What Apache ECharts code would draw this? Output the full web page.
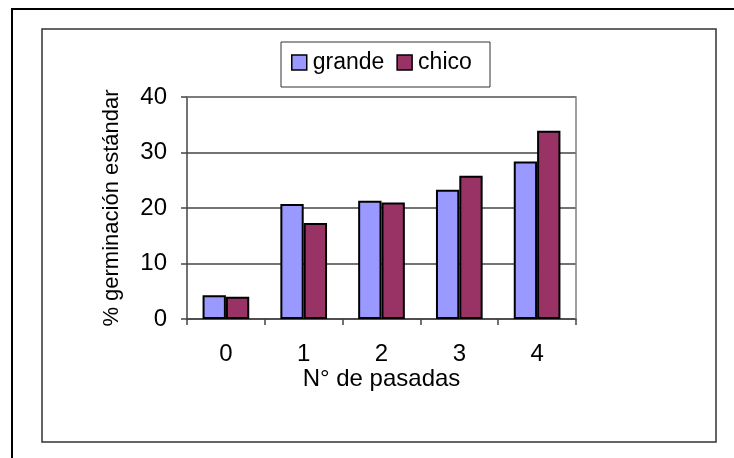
<!DOCTYPE html>
<html>
<head>
<meta charset="utf-8">
<script src="https://cdn.jsdelivr.net/npm/echarts@6/dist/echarts.min.js"></script>
<style>
  html, body { margin: 0; padding: 0; background: #fff; }
  #chart { width: 734px; height: 458px; }
</style>
</head>
<body>
<div id="chart"></div>
<script>
// Number of passes and standard germination (%) per seed size
const categories = ['0', '1', '2', '3', '4'];
const grande = [4.3, 20.7, 21.3, 23.3, 28.4];
const chico = [4.0, 17.3, 21.0, 25.8, 33.9];
const yTicks = [0, 10, 20, 30, 40];

const FONT = 'Liberation Sans, Arial, sans-serif';

const chart = echarts.init(document.getElementById('chart'), null, { renderer: 'canvas' });

chart.setOption({
  animation: false,
  backgroundColor: '#fff',
  textStyle: { fontFamily: FONT, color: '#000' },
  graphic: [
    // outer frame
    { type: 'rect', shape: { x: 12, y: 9, width: 800, height: 500 },
      style: { fill: 'none', stroke: '#000', lineWidth: 2 }, z: 0 },
    // chart area frame
    { type: 'rect', shape: { x: 42, y: 29, width: 674, height: 413 },
      style: { fill: 'none', stroke: '#333', lineWidth: 1.5 }, z: 0 },
    // legend frame
    { type: 'rect', shape: { x: 281, y: 42, width: 209, height: 45 },
      style: { fill: '#fff', stroke: '#333', lineWidth: 1 }, z: 0 },
    // plot area border (top / right)
    { type: 'polyline', shape: { points: [[187, 97], [576, 97], [576, 319]] },
      style: { stroke: '#808080', lineWidth: 1.5, fill: 'none' }, z: 1 }
  ],
  legend: {
    left: 291,
    top: 51,
    itemWidth: 15,
    itemHeight: 15,
    itemGap: 12,
    padding: 0,
    icon: 'rect',
    textStyle: { fontSize: 23, fontFamily: FONT, color: '#000', padding: [0, 0, 0, 1] },
    itemStyle: { borderColor: '#000', borderWidth: 1.5 },
    data: ['grande', 'chico']
  },
  grid: { left: 187, top: 97, width: 389, height: 222, containLabel: false },
  xAxis: {
    type: 'category',
    data: categories,
    name: 'N° de pasadas',
    nameLocation: 'middle',
    nameGap: 46,
    nameTextStyle: { fontSize: 24, fontFamily: FONT, color: '#000' },
    axisLine: { show: true, lineStyle: { color: '#444', width: 1.5 } },
    axisTick: { show: true, alignWithLabel: false, length: 6, lineStyle: { color: '#444', width: 1.5 } },
    axisLabel: { fontSize: 24, fontFamily: FONT, color: '#000', margin: 23 }
  },
  yAxis: {
    type: 'value',
    min: 0,
    max: 40,
    interval: 10,
    name: '% germinación estándar',
    nameLocation: 'middle',
    nameGap: 64,
    nameTextStyle: { fontSize: 22, fontFamily: FONT, color: '#000' },
    axisLine: { show: true, lineStyle: { color: '#444', width: 1.5 } },
    axisTick: { show: true, length: 6, lineStyle: { color: '#444', width: 1.5 } },
    axisLabel: {
      fontSize: 24, fontFamily: FONT, color: '#000', margin: 20,
      formatter: v => (yTicks.includes(v) ? String(v) : '')
    },
    splitLine: { show: true, lineStyle: { color: '#444', width: 1.5 } }
  },
  series: [
    {
      name: 'grande',
      type: 'bar',
      data: grande,
      barWidth: '30%',
      barGap: '0%',
      itemStyle: { color: '#9999FF', borderColor: '#000', borderWidth: 2 }
    },
    {
      name: 'chico',
      type: 'bar',
      data: chico,
      barWidth: '30%',
      barGap: '0%',
      itemStyle: { color: '#993366', borderColor: '#000', borderWidth: 2 }
    }
  ]
});
</script>
</body>
</html>
